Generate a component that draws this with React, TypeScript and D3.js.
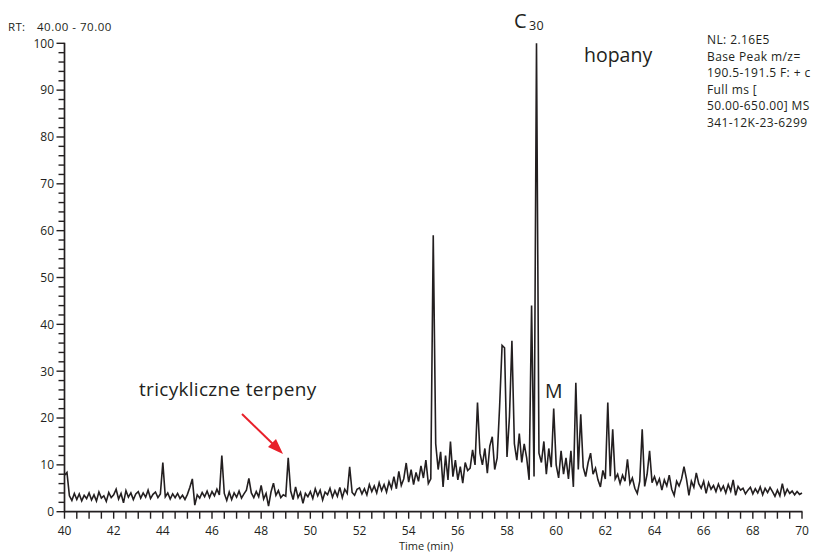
import React from "react";
import * as d3 from "d3";

// Sampling grid of the trace (minutes)
const timeStart = 40;
const timeStep = 0.1;

// Relative abundance, 0.1 min apart
const seg40to45 = [
  7.8, 8.4, 3.4, 2.4, 3.9, 2.6, 3.8, 2.3, 3.5, 2.8,
  4.0, 2.5, 3.6, 2.3, 4.2, 2.9, 3.4, 2.2, 4.1, 3.0,
  3.6, 4.8, 2.7, 3.9, 1.9, 4.5, 3.1, 4.0, 2.6, 3.8,
  4.3, 2.9, 4.0, 3.1, 4.6, 2.8, 3.7, 4.2, 3.0, 3.8,
  10.5, 3.2, 4.0, 2.7, 3.8, 3.0, 3.9, 2.8, 3.5, 2.6,
];
const seg45to50 = [
  3.7, 5.2, 7.0, 1.4, 3.6, 2.9, 4.1, 3.2, 4.4, 3.0,
  4.3, 3.4, 4.8, 3.6, 12.0, 3.9, 2.4, 4.2, 2.6, 4.0,
  3.1, 4.4, 2.9, 3.8, 4.6, 7.1, 4.0, 3.0, 4.3, 3.2,
  5.6, 2.7, 3.9, 1.2, 4.2, 6.1, 3.5, 4.5, 3.0, 3.6,
  3.3, 11.5, 4.4, 2.6, 5.3, 3.0, 4.1, 1.8, 3.9, 3.2,
];
const seg50to55 = [
  4.3, 2.8, 4.9, 3.4, 4.6, 2.5, 4.2, 3.6, 5.0, 3.1,
  4.5, 3.3, 5.2, 3.0, 4.8, 3.9, 9.6, 4.1, 3.5, 4.8,
  5.1, 3.8, 4.9, 3.6, 5.8, 4.3, 5.5, 4.0, 6.2, 4.5,
  5.8, 4.2, 6.4, 5.0, 7.5, 4.9, 8.6, 5.6, 7.0, 10.4,
  6.3, 9.0, 5.8, 8.4, 6.5, 9.8, 7.2, 11.0, 6.0, 7.0,
];
const seg55to60 = [
  59.0, 14.5, 9.0, 12.8, 5.3, 12.0, 6.8, 15.0, 7.5, 11.0,
  6.8, 9.6, 6.1, 10.5, 8.8, 9.3, 13.2, 10.0, 23.3, 12.5,
  10.0, 13.5, 8.2, 14.0, 16.0, 9.0, 11.5, 22.5, 35.5, 35.0,
  11.7, 20.3, 36.5, 14.5, 11.0, 16.7, 10.5, 14.5, 11.5, 6.8,
  44.0, 7.5, 100.0, 12.5, 10.5, 15.0, 8.0, 13.5, 9.5, 22.0,
];
const seg60to65 = [
  10.0, 7.2, 13.0, 8.0, 11.5, 7.0, 13.0, 5.3, 27.5, 9.0,
  20.8, 9.5, 7.5, 10.5, 12.5, 8.0, 9.3, 6.8, 5.3, 8.8,
  7.0, 23.3, 7.6, 17.6, 7.0, 8.0, 6.0, 7.8, 6.5, 11.2,
  6.0, 7.2, 5.0, 3.9, 6.5, 17.6, 5.4, 8.0, 13.0, 6.2,
  7.5, 5.8, 7.0, 4.6, 6.8, 5.5, 7.8, 4.8, 3.5, 6.5,
];
const seg65to70 = [
  5.5, 7.0, 9.6, 7.0, 3.5, 6.5, 5.2, 8.3, 6.0, 5.0,
  6.5, 3.9, 6.2, 4.8, 5.6, 4.3, 5.9, 4.5, 5.5, 4.0,
  5.8, 4.4, 6.8, 3.5, 5.4, 4.6, 5.0, 3.8, 4.6, 5.2,
  3.8, 4.9, 4.0, 5.3, 3.6, 5.0, 4.1, 5.2, 4.3, 3.3,
  4.6, 3.4, 6.0, 3.6, 4.8, 3.9, 4.4, 3.6, 4.3, 3.7,
  4.0,
];

const xMajorTicks = [40, 42, 44, 46, 48, 50, 52, 54, 56, 58, 60, 62, 64, 66, 68, 70];
const yMajorTicks = [0, 10, 20, 30, 40, 50, 60, 70, 80, 90, 100];

const infoLines = [
  "NL: 2.16E5",
  "Base Peak m/z=",
  "190.5-191.5 F: + c",
  "Full ms [",
  "50.00-650.00]  MS",
  "341-12K-23-6299",
];

const INK = "#231f20";
const FONT = "'Open Sans', 'Noto Sans', sans-serif";

export default function App() {
  const values = [...seg40to45, ...seg45to50, ...seg50to55, ...seg55to60, ...seg60to65, ...seg65to70];
  const points = values.map((v, i) => [timeStart + i * timeStep, v] as [number, number]);

  const x = d3.scaleLinear().domain([40, 70]).range([64.5, 802]);
  const y = d3.scaleLinear().domain([0, 100]).range([511.7, 43.3]);

  const line = d3
    .line<[number, number]>()
    .x((d) => x(d[0]))
    .y((d) => y(d[1]));

  const xMinor = d3.range(40, 70.001, 0.5);
  const yMinor = d3.range(0, 100.001, 2);

  const axisX0 = x(40);
  const axisY0 = y(0);

  return (
    <svg
      width={820}
      height={554}
      viewBox="0 0 820 554"
      style={{ position: "absolute", left: 0, top: 0, background: "#fff" }}
      fontFamily={FONT}
    >
      <rect x={0} y={0} width={820} height={554} fill="#fff" />

      {/* RT label */}
      <text x={8} y={31} fontSize={11.5} letterSpacing={0.3} fill={INK}>RT:</text>
      <text x={37} y={31} fontSize={11.5} letterSpacing={0.5} fill={INK}>40.00 - 70.00</text>

      {/* Y axis */}
      <line x1={axisX0} x2={axisX0} y1={y(100) - 0.5} y2={axisY0 + 0.5} stroke={INK} strokeWidth={1.7} />
      {yMinor.map((v) => {
        const major = Math.abs(v % 10) < 1e-6;
        return (
          <line
            key={"ym" + v}
            x1={axisX0 - (major ? 8 : 6)}
            x2={axisX0}
            y1={y(v)}
            y2={y(v)}
            stroke={INK}
            strokeWidth={1.4}
          />
        );
      })}
      {yMajorTicks.map((v) => (
        <text key={"yl" + v} x={54} y={y(v)} dy="0.36em" textAnchor="end" fontSize={12} fill={INK}>
          {v}
        </text>
      ))}

      {/* X axis */}
      <line x1={axisX0 - 0.5} x2={x(70) + 0.5} y1={axisY0} y2={axisY0} stroke={INK} strokeWidth={1.7} />
      {xMinor.map((t) => (
        <line key={"xm" + t} x1={x(t)} x2={x(t)} y1={axisY0} y2={axisY0 + 7} stroke={INK} strokeWidth={1.4} />
      ))}
      {xMajorTicks.map((t) => (
        <text key={"xl" + t} x={x(t)} y={534.5} textAnchor="middle" fontSize={12} fill={INK}>
          {t}
        </text>
      ))}
      <text x={426} y={550} textAnchor="middle" fontSize={11} fill={INK}>Time (min)</text>

      {/* trace */}
      <path d={line(points) || ""} fill="none" stroke={INK} strokeWidth={1.6} strokeLinejoin="miter" />

      {/* annotations */}
      <text x={514} y={28} fontSize={20} fill={INK}>C</text>
      <text x={529} y={30} fontSize={12.5} letterSpacing={0.4} fill={INK}>30</text>
      <text x={584} y={62} fontSize={19.5} fill={INK}>hopany</text>
      <text x={545} y={398} fontSize={19.5} fill={INK}>M</text>
      <text x={139} y={396} fontSize={19} letterSpacing={0.3} fill={INK}>tricykliczne terpeny</text>

      {/* red arrow */}
      <line x1={242} y1={414} x2={275} y2={446} stroke="#e8202a" strokeWidth={2} />
      <polygon points="283,454 268,447 276,439" fill="#e8202a" />

      {/* info block */}
      {infoLines.map((s, i) => (
        <text key={"info" + i} x={707} y={44 + i * 16.5} fontSize={12} letterSpacing={0.4} fill={INK}>
          {s}
        </text>
      ))}
    </svg>
  );
}
